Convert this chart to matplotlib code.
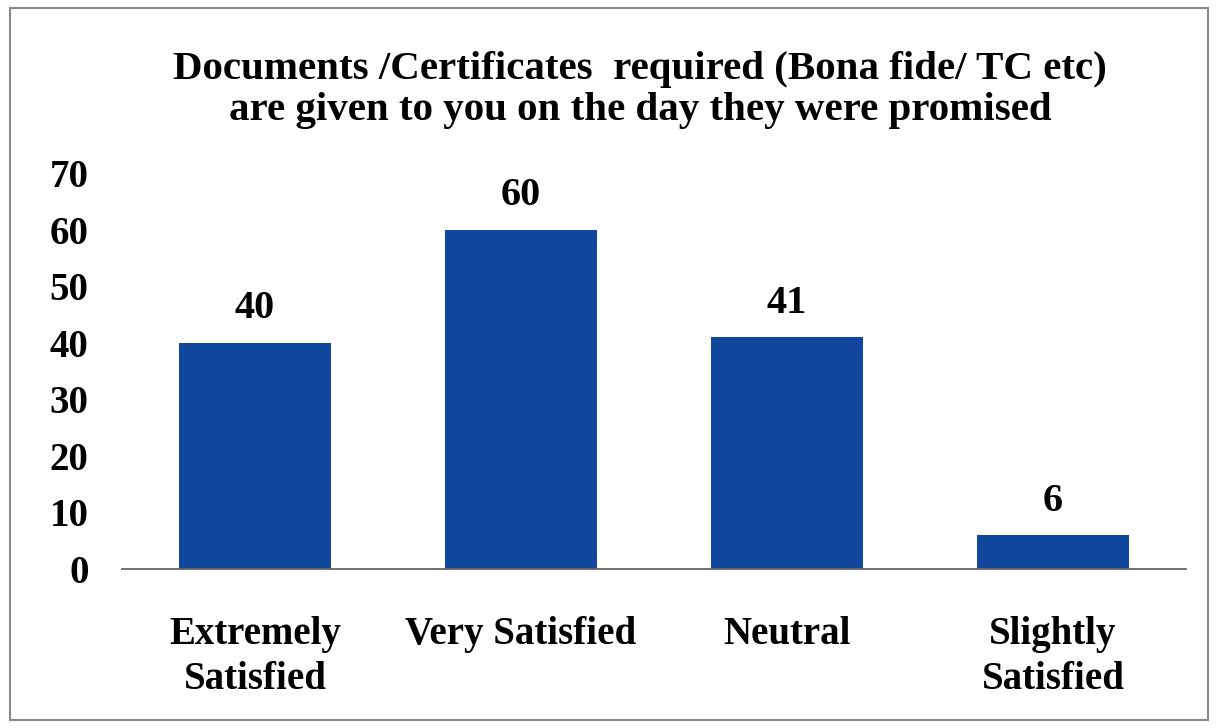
import matplotlib
matplotlib.use("Agg")
import matplotlib.pyplot as plt
from matplotlib.patches import Rectangle

categories = ["Extremely\nSatisfied", "Very Satisfied", "Neutral", "Slightly\nSatisfied"]
values = [40, 60, 41, 6]
yticks = [0, 10, 20, 30, 40, 50, 60, 70]
title = ("Documents /Certificates  required (Bona fide/ TC etc)\n"
         "are given to you on the day they were promised")

bar_color = "#11479C"
plt.rcParams['font.family'] = ['Liberation Serif', 'DejaVu Serif']

fig = plt.figure(figsize=(12.17, 7.28), dpi=100)
fig.patches.append(Rectangle((10/1217, 8/728), 1198/1217, 712/728, transform=fig.transFigure,
                             fill=False, edgecolor="#8a8a8a", linewidth=1.5))

ax = fig.add_axes([122/1217, 159/728, 1064/1217, 396/728])
x = list(range(len(categories)))
bars = ax.bar(x, values, width=0.57, color=bar_color, zorder=2)
ax.set_xlim(-0.5, len(categories) - 0.5)
ax.set_ylim(0, 70)
ax.set_yticks(yticks)
ax.set_yticklabels([str(t) for t in yticks], fontsize=28, fontweight='bold')
ax.set_xticks(x)
ax.set_xticklabels(categories, fontsize=28, fontweight='bold', linespacing=1.28)
ax.tick_params(axis='y', length=0, pad=24)
ax.tick_params(axis='x', length=0, pad=34)
for s in ['top', 'right', 'left']:
    ax.spines[s].set_visible(False)
ax.spines['bottom'].set_color('#666666')
ax.spines['bottom'].set_linewidth(1.3)

for b, v in zip(bars, values):
    ax.annotate(str(v), (b.get_x() + b.get_width() / 2, v), xytext=(0, 11),
                textcoords='offset points', ha='center', va='bottom',
                fontsize=29, fontweight='bold')

fig.text(640/1217, 1 - 90/728, title, ha='center', va='center', fontsize=29.5,
         fontweight='bold', linespacing=1.12)

fig.savefig("out.png", dpi=100)
